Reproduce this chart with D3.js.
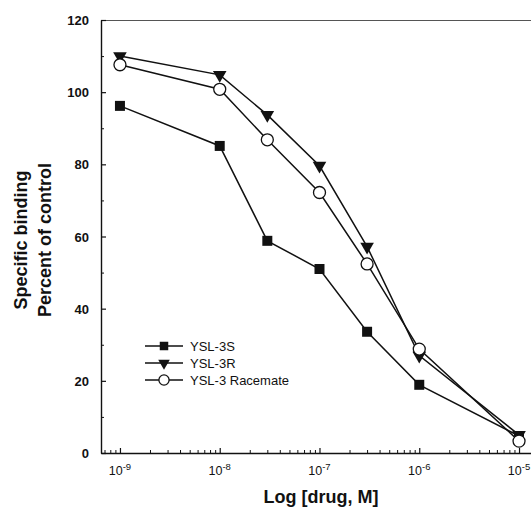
<!DOCTYPE html>
<html><head><meta charset="utf-8">
<script src="https://cdn.jsdelivr.net/npm/d3@7"></script>
<style>body{margin:0;background:#fff}svg{display:block}</style>
</head><body><svg id="c" width="531" height="509"></svg>
<script>
const concentrations = [1e-9, 1e-8, 3e-8, 1e-7, 3e-7, 1e-6, 1e-5];
const ysl3S = [96.2, 85.1, 58.8, 51.0, 33.6, 18.9, 4.7];
const ysl3R = [110.0, 104.8, 93.7, 79.6, 57.2, 27.0, 5.0];
const racemate = [107.6, 100.8, 86.8, 72.2, 52.4, 28.8, 3.3];
const seriesNames = ["YSL-3S", "YSL-3R", "YSL-3 Racemate"];
const yTicks = [0, 20, 40, 60, 80, 100, 120];
const xTickExps = [-9, -8, -7, -6, -5];

const svg = d3.select("#c");
const x = d3.scaleLog().domain([Math.pow(10, -9.19), Math.pow(10, -4.88)]).range([101, 531]);
const y = d3.scaleLinear().domain([0, 120]).range([453, 20]);
const font = "Liberation Sans, Arial, sans-serif";

svg.append("line").attr("x1", 101).attr("x2", 531).attr("y1", 20.5).attr("y2", 20.5).attr("stroke", "#555").attr("stroke-width", 1.2);

// X axis
const minor = [];
for (let e = -10; e <= -5; e++) for (let m = 2; m <= 9; m++) { const v = m * Math.pow(10, e); if (v >= x.domain()[0] && v <= x.domain()[1]) minor.push(v); }
const xMajor = xTickExps.map(e => Math.pow(10, e));
const xa = svg.append("g").attr("transform", "translate(0,453)")
  .call(d3.axisBottom(x).tickValues(xMajor).tickSizeInner(-5).tickSizeOuter(0).tickFormat(""));
xa.select(".domain").attr("stroke", "#111").attr("stroke-width", 1.4);
xa.selectAll(".tick line").attr("stroke", "#111").attr("stroke-width", 1.2);
const xm = svg.append("g").attr("transform", "translate(0,453)")
  .call(d3.axisBottom(x).tickValues(minor).tickSizeInner(-3).tickSizeOuter(0).tickFormat(""));
xm.select(".domain").remove();
xm.selectAll(".tick line").attr("stroke", "#111").attr("stroke-width", 1);
xTickExps.forEach(e => {
  const t = svg.append("text").attr("x", x(Math.pow(10, e))).attr("y", 475)
    .attr("text-anchor", "middle").attr("font-family", font).attr("font-size", 12.5).attr("fill", "#111");
  t.append("tspan").text("10");
  t.append("tspan").attr("dy", -5).attr("font-size", 9.5).text(String(e));
});

// Y axis
const ya = svg.append("g").attr("transform", "translate(101,0)")
  .call(d3.axisLeft(y).tickValues(yTicks).tickSizeInner(-5).tickSizeOuter(0).tickFormat(""));
ya.select(".domain").attr("stroke", "#111").attr("stroke-width", 1.4);
ya.selectAll(".tick line").attr("stroke", "#111").attr("stroke-width", 1.2);
const yMinor = d3.range(10, 120, 20);
const ym = svg.append("g").attr("transform", "translate(101,0)")
  .call(d3.axisLeft(y).tickValues(yMinor).tickSizeInner(-3).tickSizeOuter(0).tickFormat(""));
ym.select(".domain").remove();
ym.selectAll(".tick line").attr("stroke", "#111");
yTicks.forEach(v => {
  svg.append("text").attr("x", 89).attr("y", y(v) + 5).attr("text-anchor", "end")
    .attr("font-family", font).attr("font-weight", "bold").attr("font-size", 13).attr("fill", "#111").text(v);
});

// Titles
svg.append("text").attr("x", 321).attr("y", 503).attr("text-anchor", "middle")
  .attr("font-family", font).attr("font-weight", "bold").attr("font-size", 18).attr("fill", "#111").text("Log [drug, M]");
const yt = svg.append("text").attr("transform", "translate(27,240) rotate(-90)").attr("text-anchor", "middle")
  .attr("font-family", font).attr("font-weight", "bold").attr("font-size", 18).attr("fill", "#111");
yt.append("tspan").attr("x", 0).attr("y", 0).text("Specific binding");
yt.append("tspan").attr("x", 0).attr("y", 24).text("Percent of control");

// Series
const line = d3.line().x((d, i) => x(concentrations[i])).y(d => y(d));
const allSeries = [ysl3S, ysl3R, racemate];
function drawMarker(sel, k, cx, cy, s) {
  if (k === 0) sel.append("path").attr("d", d3.symbol().type(d3.symbolSquare).size(100 * s * s)()).attr("transform", `translate(${cx},${cy})`).attr("fill", "#111");
  else if (k === 1) sel.append("path").attr("d", d3.symbol().type(d3.symbolTriangle).size(80 * s * s)()).attr("transform", `translate(${cx},${cy}) rotate(180)`).attr("fill", "#111");
  else sel.append("circle").attr("cx", cx).attr("cy", cy).attr("r", 6 * s).attr("fill", "#fff").attr("stroke", "#111").attr("stroke-width", 1.3);
}
allSeries.forEach((s) => {
  svg.append("path").attr("d", line(s)).attr("fill", "none").attr("stroke", "#111").attr("stroke-width", 1.5);
});
allSeries.forEach((s, k) => {
  const gg = svg.append("g");
  s.forEach((v, i) => drawMarker(gg, k, x(concentrations[i]), y(v), 1));
});

// Legend
seriesNames.forEach((n, k) => {
  const ly = 346 + k * 17;
  svg.append("line").attr("x1", 145).attr("x2", 183).attr("y1", ly).attr("y2", ly).attr("stroke", "#111").attr("stroke-width", 1.3);
  drawMarker(svg.append("g"), k, 164, ly, 0.85);
  svg.append("text").attr("x", 190).attr("y", ly + 4.5).attr("font-family", font).attr("font-size", 13).attr("fill", "#111").text(n);
});
</script></body></html>
